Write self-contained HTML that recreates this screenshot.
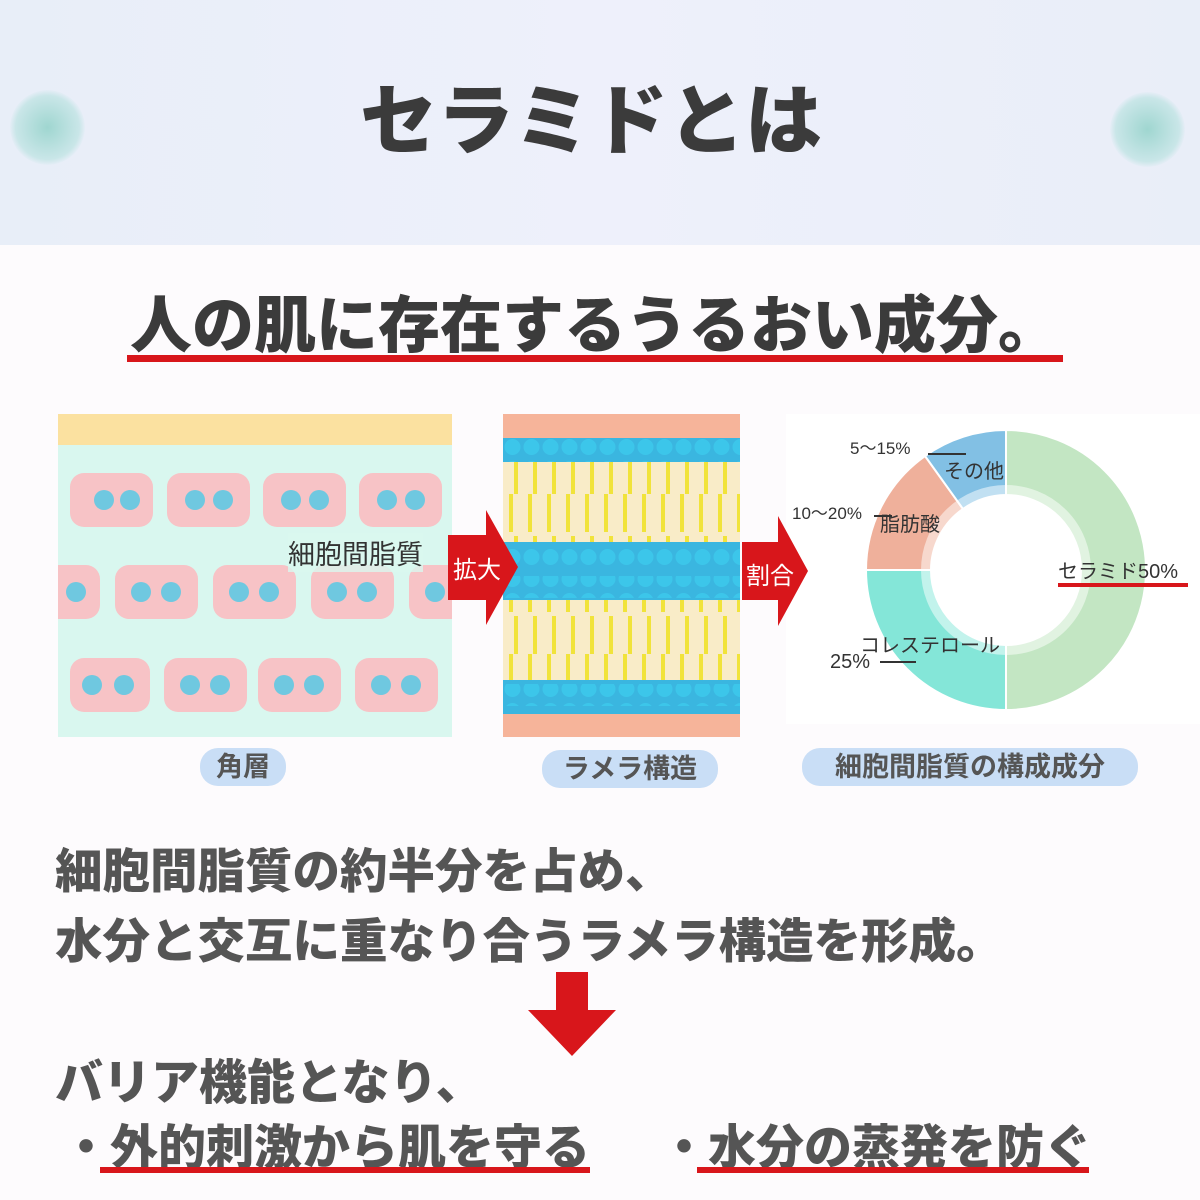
<!DOCTYPE html>
<html><head><meta charset="utf-8"><style>
body{margin:0;width:1200px;height:1200px;position:relative;overflow:hidden;background:#fdfbfd;font-family:"Liberation Sans","Noto Sans CJK JP",sans-serif}
.a{position:absolute}
.t{font-weight:900;color:#3b3b3b;white-space:nowrap}
.cell{position:absolute;height:54px;background:#f7c3c6;border-radius:14px}
.cell i{position:absolute;top:17px;width:20px;height:20px;border-radius:50%;background:#6fc8e0}
.pill{position:absolute;background:#c9def6;border-radius:18px;height:38px;line-height:38px;text-align:center;font-size:27px;font-weight:700;color:#555}
</style></head><body>
<div class="a" style="left:0;top:0;width:1200px;height:245px;background:linear-gradient(90deg,#e8eef8,#eef0fb 50%,#e9eef8)"></div>
<div class="a" style="left:10px;top:90px;width:75px;height:75px;border-radius:50%;background:radial-gradient(#9fd6d0,#c9e6e8 60%,transparent 72%)"></div>
<div class="a" style="left:1110px;top:92px;width:75px;height:75px;border-radius:50%;background:radial-gradient(#9fd6d0,#c9e6e8 60%,transparent 72%)"></div>
<div class="a t" style="left:360px;top:60px;font-size:77px">セラミドとは</div>
<div class="a t" style="left:130px;top:275px;font-size:62px">人の肌に存在するうるおい成分。</div>
<div class="a" style="left:127px;top:355px;width:936px;height:7px;background:#d8161b"></div>

<!-- skin -->
<div class="a" style="left:58px;top:414px;width:394px;height:323px;background:#d9f7ef;overflow:hidden">
<div class="a" style="left:0;top:0;width:394px;height:31px;background:#fbe1a0"></div>
<div class="cell" style="left:12px;top:59px;width:83px"><i style="left:24px"></i><i style="left:50px"></i></div>
<div class="cell" style="left:109px;top:59px;width:83px"><i style="left:18px"></i><i style="left:46px"></i></div>
<div class="cell" style="left:205px;top:59px;width:83px"><i style="left:18px"></i><i style="left:46px"></i></div>
<div class="cell" style="left:301px;top:59px;width:83px"><i style="left:18px"></i><i style="left:46px"></i></div>
<div class="cell" style="left:-20px;top:151px;width:62px"><i style="left:28px"></i></div>
<div class="cell" style="left:57px;top:151px;width:83px"><i style="left:16px"></i><i style="left:46px"></i></div>
<div class="cell" style="left:155px;top:151px;width:83px"><i style="left:16px"></i><i style="left:46px"></i></div>
<div class="cell" style="left:253px;top:151px;width:83px"><i style="left:16px"></i><i style="left:46px"></i></div>
<div class="cell" style="left:351px;top:151px;width:83px"><i style="left:16px"></i></div>
<div class="cell" style="left:12px;top:244px;width:80px"><i style="left:12px"></i><i style="left:44px"></i></div>
<div class="cell" style="left:106px;top:244px;width:83px"><i style="left:16px"></i><i style="left:46px"></i></div>
<div class="cell" style="left:200px;top:244px;width:83px"><i style="left:16px"></i><i style="left:46px"></i></div>
<div class="cell" style="left:297px;top:244px;width:83px"><i style="left:16px"></i><i style="left:46px"></i></div>
</div>
<div class="a" style="left:288px;top:533px;font-size:27px;color:#333;background:rgba(217,247,239,.8)">細胞間脂質</div>

<!-- lamella -->
<svg class="a" style="left:503px;top:414px" width="237" height="323">
<defs>
<pattern id="b" width="19" height="22" patternUnits="userSpaceOnUse"><circle cx="9.5" cy="11" r="8" fill="#3cc6ea"/></pattern>
<pattern id="y" width="19" height="80" patternUnits="userSpaceOnUse"><rect x="6" y="0" width="4" height="38" fill="#f1e33a"/><rect x="11" y="42" width="4" height="38" fill="#f1e33a"/></pattern>
</defs>
<rect width="237" height="323" fill="#f9ecc8"/>
<rect width="237" height="24" fill="#f6b49a"/>
<rect y="300" width="237" height="23" fill="#f6b49a"/>
<rect y="24" width="237" height="24" fill="#3ab6e0"/><rect y="24" width="237" height="24" fill="url(#b)"/>
<rect y="48" width="237" height="80" fill="url(#y)"/>
<rect y="128" width="237" height="58" fill="#3ab6e0"/><rect y="130" width="237" height="22" fill="url(#b)"/><rect y="162" width="237" height="22" fill="url(#b)"/>
<rect y="186" width="237" height="80" fill="url(#y)"/>
<rect y="266" width="237" height="34" fill="#3ab6e0"/><rect y="270" width="237" height="22" fill="url(#b)"/>
</svg>

<!-- donut -->
<svg class="a" style="left:786px;top:414px" width="414" height="310">
<rect width="414" height="310" fill="#fff"/>
<g transform="translate(220,156)">
<path d="M0,-140 A140,140 0 0 1 0,140 L0,75 A75,75 0 0 0 0,-75Z" fill="#c3e6c3" stroke="#fff" stroke-width="2"/>
<path d="M0,140 A140,140 0 0 1 -140,0 L-75,0 A75,75 0 0 0 0,75Z" fill="#84e6d8" stroke="#fff" stroke-width="2"/>
<path d="M-140,0 A140,140 0 0 1 -81,-114 L-43,-61 A75,75 0 0 0 -75,0Z" fill="#efb09b" stroke="#fff" stroke-width="2"/>
<path d="M-81,-114 A140,140 0 0 1 0,-140 L0,-75 A75,75 0 0 0 -43,-61Z" fill="#82c0e4" stroke="#fff" stroke-width="2"/>
<circle r="80" fill="none" stroke="#fff" stroke-opacity=".5" stroke-width="10"/>
</g>
<g font-size="17" fill="#333">
<text x="64" y="40">5〜15%</text><line x1="142" y1="40" x2="180" y2="40" stroke="#333" stroke-width="2"/>
<text x="158" y="64" font-size="20">その他</text>
<text x="6" y="105">10〜20%</text><line x1="88" y1="102" x2="106" y2="102" stroke="#333" stroke-width="2"/>
<text x="94" y="117" font-size="20">脂肪酸</text>
<text x="272" y="164" font-size="20">セラミド50%</text>
<text x="74" y="238" font-size="20">コレステロール</text>
<text x="44" y="254" font-size="20">25%</text><line x1="94" y1="248" x2="130" y2="248" stroke="#333" stroke-width="2"/>
</g>
<rect x="272" y="169" width="130" height="4" fill="#d8161b"/>
</svg>

<!-- arrows -->
<svg class="a" style="left:448px;top:510px" width="70" height="115"><polygon points="0,25 38,25 38,0 70,57 38,115 38,90 0,90" fill="#d8161b"/></svg>
<div class="a" style="left:453px;top:550px;font-size:24px;color:#fff">拡大</div>
<svg class="a" style="left:742px;top:516px" width="66" height="110"><polygon points="0,26 36,26 36,0 66,55 36,110 36,84 0,84" fill="#d8161b"/></svg>
<div class="a" style="left:746px;top:556px;font-size:24px;color:#fff">割合</div>

<div class="pill" style="left:200px;top:748px;width:86px">角層</div>
<div class="pill" style="left:542px;top:750px;width:176px">ラメラ構造</div>
<div class="pill" style="left:802px;top:748px;width:336px">細胞間脂質の構成成分</div>

<div class="a t" style="left:55px;top:838px;font-size:47.5px;color:#555;line-height:70px">細胞間脂質の約半分を占め、<br>水分と交互に重なり合うラメラ構造を形成。</div>
<svg class="a" style="left:528px;top:972px" width="88" height="84"><polygon points="28,0 60,0 60,38 88,38 44,84 0,38 28,38" fill="#d8161b"/></svg>
<div class="a t" style="left:55px;top:1043px;font-size:48px;color:#555">バリア機能となり、</div>
<div class="a t" style="left:62px;top:1108px;font-size:48px;color:#555">・外的刺激から肌を守る</div>
<div class="a t" style="left:660px;top:1108px;font-size:48px;color:#555">・水分の蒸発を防ぐ</div>
<div class="a" style="left:100px;top:1167px;width:490px;height:6px;background:#d8161b"></div>
<div class="a" style="left:697px;top:1167px;width:392px;height:6px;background:#d8161b"></div>
</body></html>
